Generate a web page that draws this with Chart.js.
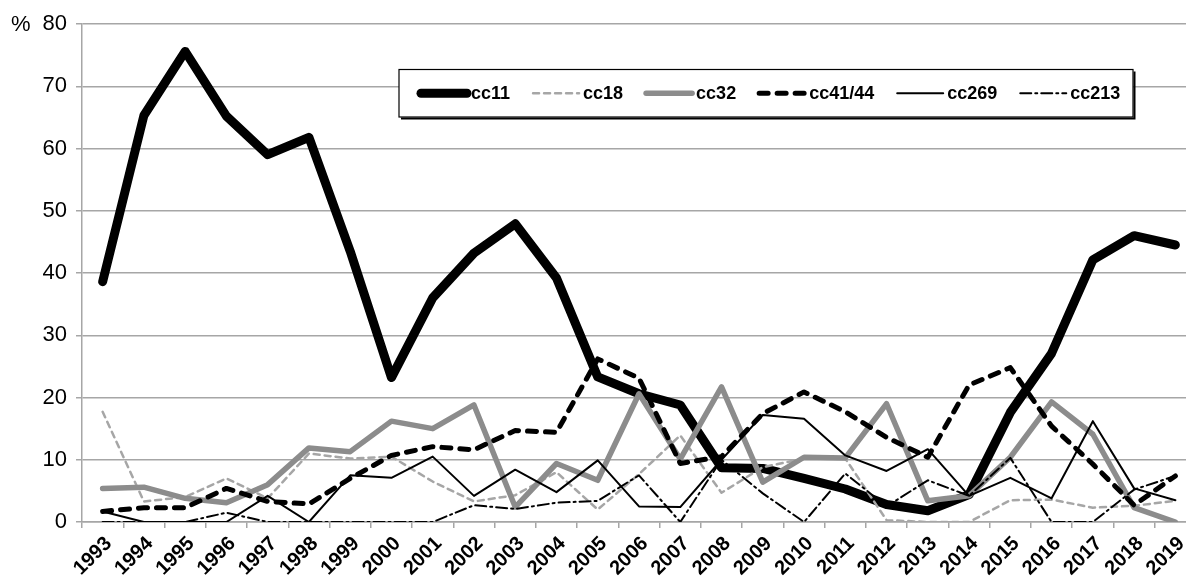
<!DOCTYPE html>
<html>
<head>
<meta charset="utf-8">
<script src="https://cdn.jsdelivr.net/npm/chart.js@4"></script>
<style>
  html, body { margin: 0; padding: 0; background: #fff; overflow: hidden; }
  #wrap { width: 1200px; height: 580px; }
</style>
</head>
<body>
<div id="wrap"><canvas id="ccChart" width="1200" height="580"></canvas></div>
<script>
const years = ['1993', '1994', '1995', '1996', '1997', '1998', '1999', '2000', '2001', '2002',
  '2003', '2004', '2005', '2006', '2007', '2008', '2009', '2010', '2011', '2012',
  '2013', '2014', '2015', '2016', '2017', '2018', '2019'];

const cc11 = [38.6, 65.3, 75.6, 65.2, 59.0, 61.8, 43.5, 23.2, 36.0, 43.2, 47.9, 39.2, 23.3, 20.6,
  18.8, 8.7, 8.6, 7.0, 5.3, 2.8, 1.8, 4.4, 17.6, 27.1, 42.1, 46.0, 44.5];
const cc18 = [17.7, 3.3, 4.0, 7.0, 3.8, 11.0, 10.2, 10.5, 6.5, 3.3, 4.3, 8.0, 2.0, 7.7,
  13.9, 4.7, 8.8, 10.2, 10.2, 0.3, 0, 0, 3.5, 3.6, 2.3, 2.6, 3.4];
const cc32 = [5.4, 5.6, 3.8, 3.1, 6.0, 11.9, 11.3, 16.2, 15.0, 18.8, 2.4, 9.4, 6.7, 20.6,
  10.1, 21.7, 6.4, 10.4, 10.3, 19.0, 3.4, 4.2, 10.4, 19.3, 14.1, 2.3, 0];
const cc41_44 = [1.7, 2.3, 2.3, 5.4, 3.3, 2.9, 7.0, 10.7, 12.1, 11.6, 14.7, 14.4, 26.2, 23.1,
  9.4, 10.5, 17.4, 20.9, 17.7, 13.6, 10.4, 22.0, 24.8, 15.4, 9.3, 2.7, 7.4];
const cc269 = [1.7, 0, 0, 0, 4.2, 0, 7.5, 7.1, 10.5, 4.2, 8.4, 4.8, 9.9, 2.5,
  2.4, 10.0, 17.2, 16.6, 10.7, 8.2, 11.7, 4.2, 7.1, 3.8, 16.2, 5.4, 3.5];
const cc213 = [0, 0, 0, 1.5, 0, 0, 0, 0, 0, 2.7, 2.1, 3.1, 3.4, 7.5,
  0, 10.0, 4.6, 0, 7.8, 2.5, 6.7, 4.2, 10.3, 0, 0, 5.2, 7.4];

const FONT = "'Liberation Sans', Arial, sans-serif";
const GRID = '#a6a6a6';

function series(label, data, color, width, dash, order) {
  return {
    label, data,
    borderColor: color,
    backgroundColor: color,
    borderWidth: width,
    borderDash: dash,
    borderCapStyle: 'round',
    borderJoinStyle: 'round',
    pointRadius: 0,
    pointHoverRadius: 0,
    tension: 0,
    fill: false,
    order
  };
}

// legend box drawn like the Excel one, plus the "%" unit label
const boxLegend = {
  id: 'boxLegend',
  afterDraw(chart) {
    const ctx = chart.ctx;
    const left = 399, top = 69.5, right = 1133, bottom = 117;
    const cy = (top + bottom) / 2;
    ctx.save();
    ctx.fillStyle = '#fff';
    ctx.fillRect(left, top, right - left, bottom - top);
    ctx.strokeStyle = '#000';
    ctx.lineWidth = 1.2;
    ctx.strokeRect(left, top, right - left, bottom - top);
    ctx.lineWidth = 2;
    ctx.beginPath();
    ctx.moveTo(left + 2, bottom + 1.5);
    ctx.lineTo(right + 1.5, bottom + 1.5);
    ctx.lineTo(right + 1.5, top + 2);
    ctx.stroke();

    ctx.font = 'bold 18px ' + FONT;
    ctx.textBaseline = 'middle';
    ctx.textAlign = 'left';
    let x = 421;
    chart.data.datasets.forEach(ds => {
      ctx.save();
      ctx.strokeStyle = ds.borderColor;
      ctx.lineWidth = ds.borderWidth;
      ctx.lineCap = 'round';
      ctx.setLineDash(ds.borderDash || []);
      ctx.beginPath();
      ctx.moveTo(x, cy);
      ctx.lineTo(x + 46, cy);
      ctx.stroke();
      ctx.restore();
      ctx.fillStyle = '#000';
      ctx.fillText(ds.label, x + 50, cy + 1);
      x += 50 + ctx.measureText(ds.label).width + 23;
    });

    ctx.font = '22px ' + FONT;
    ctx.fillText('%', 11, 25);
    ctx.restore();
  }
};

new Chart(document.getElementById('ccChart'), {
  type: 'line',
  data: {
    labels: years,
    datasets: [
      series('cc11', cc11, '#000', 9, [], 6),
      series('cc18', cc18, '#a6a6a6', 2.5, [6, 5], 5),
      series('cc32', cc32, '#8c8c8c', 5.5, [], 4),
      series('cc41/44', cc41_44, '#000', 5, [9, 9], 3),
      series('cc269', cc269, '#000', 2, [], 2),
      series('cc213', cc213, '#000', 2, [11, 4, 2, 4], 1)
    ]
  },
  options: {
    responsive: false,
    animation: false,
    layout: { padding: { top: 24, right: 4, left: 0, bottom: 0 } },
    plugins: {
      legend: { display: false },
      tooltip: { enabled: false }
    },
    scales: {
      x: {
        offset: true,
        grid: { offset: true, drawOnChartArea: false, tickLength: 6, color: GRID, lineWidth: 1.5 },
        border: { color: GRID, width: 1.5 },
        ticks: {
          autoSkip: false, minRotation: 45, maxRotation: 45, padding: 4, labelOffset: 6,
          color: '#000', font: { family: FONT, size: 20, weight: 'bold' }
        },
        afterFit(scale) { scale.height = 58; }
      },
      y: {
        min: 0, max: 80,
        grid: { color: GRID, lineWidth: 1.5, tickLength: 6 },
        border: { color: GRID, width: 1.5 },
        ticks: {
          stepSize: 10, padding: 9,
          color: '#000', font: { family: FONT, size: 22 }
        },
        afterFit(scale) { scale.width = 82; }
      }
    }
  },
  plugins: [boxLegend]
});
</script>
</body>
</html>
